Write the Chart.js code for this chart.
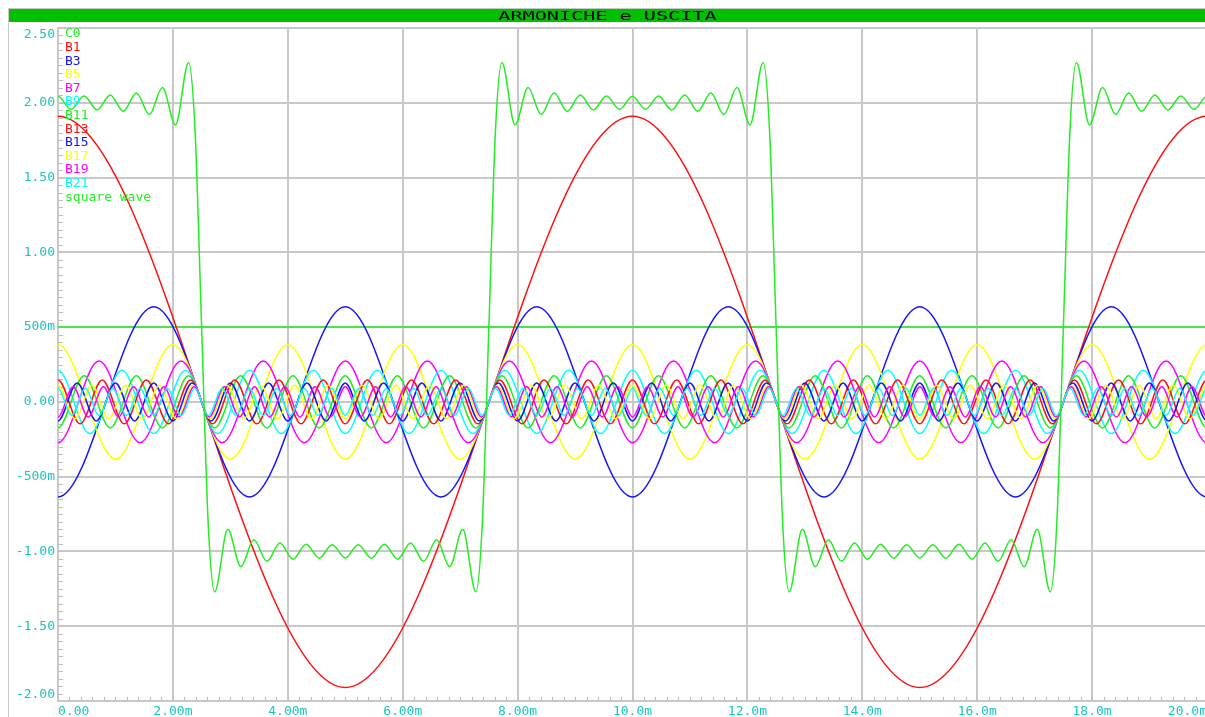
<!DOCTYPE html>
<html>
<head>
<meta charset="utf-8">
<title>ARMONICHE e USCITA</title>
<script src="https://cdn.jsdelivr.net/npm/chart.js@4"></script>
<style>
    body { margin: 0; background: #ffffff; overflow: hidden; width: 1205px; height: 717px; }
    #frame { position: absolute; left: 8px; top: 8px; width: 1205px; height: 717px;
             border-left: 1px solid #c8c8c8; border-top: 1px solid #c8c8c8; }
    #title_bar { position: absolute; left: 9px; top: 9px; width: 1196px; height: 13px;
                 background: #00c000; color: #000000; text-align: center;
                 font: 13px/13px "DejaVu Sans Mono", monospace; }
    #title_bar span { display: inline-block; transform: scaleX(1.55); }
    #chart { position: absolute; left: 0; top: 0; }
</style>
</head>
<body>
<div id="frame"></div>
<canvas id="chart" width="1210" height="717"></canvas>
<div id="title_bar"><span>ARMONICHE e USCITA</span></div>
<script>
// axis labels as printed on the plot
const x_tick_labels = ["0.00", "2.00m", "4.00m", "6.00m", "8.00m", "10.0m", "12.0m", "14.0m", "16.0m", "18.0m", "20.0m"];
const y_tick_labels = ["-2.00", "-1.50", "-1.00", "-500m", "0.00", "500m", "1.00", "1.50", "2.00", "2.50"];

const series_names = ["C0", "B1", "B3", "B5", "B7", "B9", "B11", "B13", "B15", "B17", "B19", "B21", "square wave"];
const series_colors = ["#22ee22", "#ff1010", "#1414ff", "#ffff00", "#ff00ff", "#00ffff",
                       "#22ee22", "#ff1010", "#1414ff", "#ffff00", "#ff00ff", "#00ffff", "#22ee22"];

// C0 (dc level), time in ms
const c0_t = [0, 20.5];
const c0_v = [0.5, 0.5];

// harmonics: value at each peak/valley, one every half period (ms), first one half a period before 0
const harm_step = [5, 1.6667, 1, 0.7143, 0.5556, 0.4545, 0.3846, 0.3333, 0.2941, 0.2632, 0.2381];

const b1 = [-1.91, 1.91, -1.91, 1.91, -1.91, 1.91, -1.91];
const b3 = [0.636,-0.636,0.636,-0.636,0.636,-0.636,0.636,-0.636,0.636,-0.636,
            0.636,-0.636,0.636,-0.636,0.636];
const b5 = [-0.382,0.382,-0.382,0.382,-0.382,0.382,-0.382,0.382,-0.382,0.382,
            -0.382,0.382,-0.382,0.382,-0.382,0.382,-0.382,0.382,-0.382,0.382,
            -0.382,0.382,-0.382];
const b7 = [0.273,-0.273,0.273,-0.273,0.273,-0.273,0.273,-0.273,0.273,-0.273,
            0.273,-0.273,0.273,-0.273,0.273,-0.273,0.273,-0.273,0.273,-0.273,
            0.273,-0.273,0.273,-0.273,0.273,-0.273,0.273,-0.273,0.273,-0.273,
            0.273];
const b9 = [-0.212,0.212,-0.212,0.212,-0.212,0.212,-0.212,0.212,-0.212,0.212,
            -0.212,0.212,-0.212,0.212,-0.212,0.212,-0.212,0.212,-0.212,0.212,
            -0.212,0.212,-0.212,0.212,-0.212,0.212,-0.212,0.212,-0.212,0.212,
            -0.212,0.212,-0.212,0.212,-0.212,0.212,-0.212,0.212,
            -0.212];
const b11 = [0.174,-0.174,0.174,-0.174,0.174,-0.174,0.174,-0.174,0.174,-0.174,
             0.174,-0.174,0.174,-0.174,0.174,-0.174,0.174,-0.174,0.174,-0.174,
             0.174,-0.174,0.174,-0.174,0.174,-0.174,0.174,-0.174,0.174,-0.174,
             0.174,-0.174,0.174,-0.174,0.174,-0.174,0.174,-0.174,0.174,-0.174,
             0.174,-0.174,0.174,-0.174,0.174,-0.174,
             0.174];
const b13 = [-0.147,0.147,-0.147,0.147,-0.147,0.147,-0.147,0.147,-0.147,0.147,
             -0.147,0.147,-0.147,0.147,-0.147,0.147,-0.147,0.147,-0.147,0.147,
             -0.147,0.147,-0.147,0.147,-0.147,0.147,-0.147,0.147,-0.147,0.147,
             -0.147,0.147,-0.147,0.147,-0.147,0.147,-0.147,0.147,-0.147,0.147,
             -0.147,0.147,-0.147,0.147,-0.147,0.147,-0.147,0.147,-0.147,0.147,
             -0.147,0.147,-0.147,0.147,
             -0.147];
const b15 = [0.127,-0.127,0.127,-0.127,0.127,-0.127,0.127,-0.127,0.127,-0.127,
             0.127,-0.127,0.127,-0.127,0.127,-0.127,0.127,-0.127,0.127,-0.127,
             0.127,-0.127,0.127,-0.127,0.127,-0.127,0.127,-0.127,0.127,-0.127,
             0.127,-0.127,0.127,-0.127,0.127,-0.127,0.127,-0.127,0.127,-0.127,
             0.127,-0.127,0.127,-0.127,0.127,-0.127,0.127,-0.127,0.127,-0.127,
             0.127,-0.127,0.127,-0.127,0.127,-0.127,0.127,-0.127,0.127,-0.127,
             0.127,-0.127,
             0.127];
const b17 = [-0.112,0.112,-0.112,0.112,-0.112,0.112,-0.112,0.112,-0.112,0.112,
             -0.112,0.112,-0.112,0.112,-0.112,0.112,-0.112,0.112,-0.112,0.112,
             -0.112,0.112,-0.112,0.112,-0.112,0.112,-0.112,0.112,-0.112,0.112,
             -0.112,0.112,-0.112,0.112,-0.112,0.112,-0.112,0.112,-0.112,0.112,
             -0.112,0.112,-0.112,0.112,-0.112,0.112,-0.112,0.112,-0.112,0.112,
             -0.112,0.112,-0.112,0.112,-0.112,0.112,-0.112,0.112,-0.112,0.112,
             -0.112,0.112,-0.112,0.112,-0.112,0.112,-0.112,0.112,-0.112,0.112,
             -0.112];
const b19 = [0.101,-0.101,0.101,-0.101,0.101,-0.101,0.101,-0.101,0.101,-0.101,
             0.101,-0.101,0.101,-0.101,0.101,-0.101,0.101,-0.101,0.101,-0.101,
             0.101,-0.101,0.101,-0.101,0.101,-0.101,0.101,-0.101,0.101,-0.101,
             0.101,-0.101,0.101,-0.101,0.101,-0.101,0.101,-0.101,0.101,-0.101,
             0.101,-0.101,0.101,-0.101,0.101,-0.101,0.101,-0.101,0.101,-0.101,
             0.101,-0.101,0.101,-0.101,0.101,-0.101,0.101,-0.101,0.101,-0.101,
             0.101,-0.101,0.101,-0.101,0.101,-0.101,0.101,-0.101,0.101,-0.101,
             0.101,-0.101,0.101,-0.101,0.101,-0.101,0.101,-0.101,
             0.101];
const b21 = [-0.091,0.091,-0.091,0.091,-0.091,0.091,-0.091,0.091,-0.091,0.091,
             -0.091,0.091,-0.091,0.091,-0.091,0.091,-0.091,0.091,-0.091,0.091,
             -0.091,0.091,-0.091,0.091,-0.091,0.091,-0.091,0.091,-0.091,0.091,
             -0.091,0.091,-0.091,0.091,-0.091,0.091,-0.091,0.091,-0.091,0.091,
             -0.091,0.091,-0.091,0.091,-0.091,0.091,-0.091,0.091,-0.091,0.091,
             -0.091,0.091,-0.091,0.091,-0.091,0.091,-0.091,0.091,-0.091,0.091,
             -0.091,0.091,-0.091,0.091,-0.091,0.091,-0.091,0.091,-0.091,0.091,
             -0.091,0.091,-0.091,0.091,-0.091,0.091,-0.091,0.091,-0.091,0.091,
             -0.091,0.091,-0.091,0.091,-0.091,0.091,
             -0.091];

// square wave (sum): edges, overshoots and ripple peaks
const sq_t = [-0.227, 0, 0.227, 0.455, 0.682, 0.909, 1.136, 1.364, 1.591, 1.818, 2.045, 2.273, 2.386, 2.5,
              2.614, 2.727, 2.955, 3.182, 3.409, 3.636, 3.864, 4.091, 4.318, 4.545, 4.773, 5.0,
              5.227, 5.455, 5.682, 5.909, 6.136, 6.364, 6.591, 6.818, 7.045, 7.273, 7.386, 7.5,
              7.614, 7.727, 7.955, 8.182, 8.409, 8.636, 8.864, 9.091, 9.318, 9.545, 9.773, 10.0,
              10.227, 10.455, 10.682, 10.909, 11.136, 11.364, 11.591, 11.818, 12.045, 12.273, 12.386, 12.5,
              12.614, 12.727, 12.955, 13.182, 13.409, 13.636, 13.864, 14.091, 14.318, 14.545, 14.773, 15.0,
              15.227, 15.455, 15.682, 15.909, 16.136, 16.364, 16.591, 16.818, 17.045, 17.273, 17.386, 17.5,
              17.614, 17.727, 17.955, 18.182, 18.409, 18.636, 18.864, 19.091, 19.318, 19.545, 19.773, 20.0,
              20.227];
const sq_v = [1.956, 2.043, 1.956, 2.045, 1.952, 2.052, 1.943, 2.066, 1.921, 2.102, 1.852, 2.270, 1.809, 0.5,
              -0.809, -1.270, -0.852, -1.102, -0.921, -1.066, -0.943, -1.052, -0.952, -1.045, -0.956, -1.043,
              -0.956, -1.045, -0.952, -1.052, -0.943, -1.066, -0.921, -1.102, -0.852, -1.270, -0.809, 0.5,
              1.809, 2.270, 1.852, 2.102, 1.921, 2.066, 1.943, 2.052, 1.952, 2.045, 1.956, 2.043,
              1.956, 2.045, 1.952, 2.052, 1.943, 2.066, 1.921, 2.102, 1.852, 2.270, 1.809, 0.5,
              -0.809, -1.270, -0.852, -1.102, -0.921, -1.066, -0.943, -1.052, -0.952, -1.045, -0.956, -1.043,
              -0.956, -1.045, -0.952, -1.052, -0.943, -1.066, -0.921, -1.102, -0.852, -1.270, -0.809, 0.5,
              1.809, 2.270, 1.852, 2.102, 1.921, 2.066, 1.943, 2.052, 1.952, 2.045, 1.956, 2.043,
              1.956];

const harmonics = [b1, b3, b5, b7, b9, b11, b13, b15, b17, b19, b21];

const GRID_COLOR = "#c8c8c8";
const LABEL_COLOR = "#1ec3c3";
const MONO = '"DejaVu Sans Mono", monospace';

const minor_ticks = {
    id: "minor_ticks",
    beforeDatasetsDraw: function (chart) {
        const ctx = chart.ctx;
        const area = chart.chartArea;
        const xs = chart.scales.x;
        const ys = chart.scales.y;
        ctx.save();
        ctx.strokeStyle = "#c0c0c0";
        ctx.lineWidth = 1;
        ctx.beginPath();
        for (let k = 1; k < 100; k++) {
            const px = Math.round(xs.getPixelForValue(k * 0.2)) + 0.5;
            ctx.moveTo(px, area.bottom);
            ctx.lineTo(px, area.bottom - 4);
        }
        for (let k = 1; k < 90; k++) {
            const py = Math.round(ys.getPixelForValue(-2 + k * 0.05)) + 0.5;
            ctx.moveTo(area.left, py);
            ctx.lineTo(area.left + 5, py);
        }
        ctx.stroke();
        ctx.restore();
    }
};

const legend_text = {
    id: "legend_text",
    afterDatasetsDraw: function (chart) {
        const ctx = chart.ctx;
        const area = chart.chartArea;
        ctx.save();
        ctx.font = "13px " + MONO;
        ctx.textAlign = "left";
        ctx.textBaseline = "middle";
        chart.data.datasets.forEach(function (ds, i) {
            ctx.fillStyle = ds.borderColor;
            ctx.fillText(ds.label, area.left + 7, area.top + 6 + i * 13.6);
        });
        ctx.restore();
    }
};

function pair_points(t_list, v_list) {
    return t_list.map(function (t, i) { return { x: t, y: v_list[i] }; });
}

function peaks_to_points(v_list, step) {
    return v_list.map(function (v, i) { return { x: (i - 1) * step, y: v }; });
}

function main() {
    const series = [];
    series.push(pair_points(c0_t, c0_v));
    harmonics.forEach(function (vals, i) { series.push(peaks_to_points(vals, harm_step[i])); });
    series.push(pair_points(sq_t, sq_v));

    const datasets = series.map(function (pts, i) {
        return {
            label: series_names[i],
            data: pts,
            borderColor: series_colors[i],
            borderWidth: 1.5,
            pointRadius: 0,
            fill: false,
            cubicInterpolationMode: "monotone",
            order: series.length - i
        };
    });

    new Chart(document.getElementById("chart"), {
        type: "line",
        data: { datasets: datasets },
        options: {
            responsive: false,
            animation: false,
            devicePixelRatio: 1,
            layout: { padding: { left: 8, top: 28, right: 3, bottom: 0 } },
            plugins: { legend: { display: false }, tooltip: { enabled: false } },
            scales: {
                x: {
                    type: "linear", min: 0, max: 20,
                    afterFit: function (scale) { scale.height = 14; },
                    grid: { color: GRID_COLOR, lineWidth: 2, drawTicks: false },
                    border: { color: GRID_COLOR, width: 2 },
                    ticks: {
                        stepSize: 2, align: "inner", padding: 3, maxRotation: 0, autoSkip: false,
                        color: LABEL_COLOR, font: { family: MONO, size: 13 },
                        callback: function (v, idx) { return x_tick_labels[idx]; }
                    }
                },
                y: {
                    min: -2, max: 2.5,
                    afterFit: function (scale) { scale.width = 50; },
                    grid: { color: GRID_COLOR, lineWidth: 2, drawTicks: false },
                    border: { color: GRID_COLOR, width: 2 },
                    ticks: {
                        stepSize: 0.5, padding: 3, autoSkip: false,
                        color: LABEL_COLOR, font: { family: MONO, size: 13, lineHeight: 1 },
                        callback: function (v, idx, ticks) {
                            const lbl = y_tick_labels[idx];
                            // keep the end labels inside the plot height
                            if (idx === 0) { return [lbl, ""]; }
                            if (idx === ticks.length - 1) { return ["", lbl]; }
                            return lbl;
                        }
                    }
                }
            }
        },
        plugins: [minor_ticks, legend_text]
    });
}

main();
</script>
</body>
</html>
